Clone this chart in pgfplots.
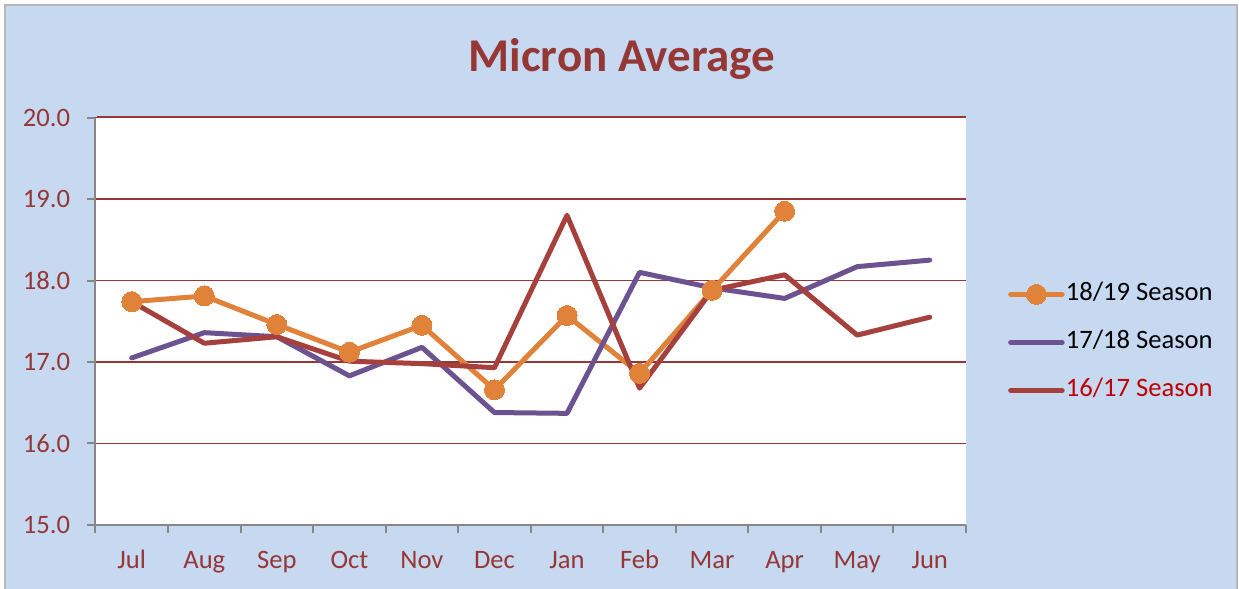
\documentclass[border=0pt]{standalone}
\usepackage{pgfplots}
\pgfplotsset{compat=1.18}
\usepackage{fontspec}
\setmainfont{Carlito}
\definecolor{bgblue}{HTML}{C6D9F1}
\definecolor{gridred}{HTML}{953735}
\definecolor{axgray}{HTML}{878787}
\definecolor{sorange}{HTML}{E0823A}
\definecolor{spurple}{HTML}{6C5290}
\definecolor{sred}{HTML}{A5403D}
\definecolor{legred}{HTML}{C00000}
\begin{document}
\begin{tikzpicture}
\useasboundingbox (-47.75pt,-32pt) rectangle (571.75pt,262.5pt);
\begin{scope}
\clip (-47.75pt,-32pt) rectangle (571.75pt,262.5pt);
\draw[axgray!60, line width=1pt, fill=bgblue] (-45pt,-40pt) rectangle (570.75pt,260pt);
\end{scope}
\node[anchor=base, text=gridred, font=\fontsize{23.5}{28}\selectfont\bfseries] at (263.25pt,226.65pt) {Micron Average};
\begin{axis}[
  at={(0pt,0pt)}, anchor=south west,
  scale only axis, width=435.25pt, height=203.75pt,
  xmin=0.5, xmax=12.5, ymin=15, ymax=20,
  axis background/.style={fill=white},
  axis x line*=bottom, axis y line*=left,
  axis line style={axgray, line width=1pt},
  xtick={0.5,1.5,...,12.5},
  x tick label as interval,
  xticklabels={Jul,Aug,Sep,Oct,Nov,Dec,Jan,Feb,Mar,Apr,May,Jun},
  ytick={15,16,17,18,19,20},
  ymajorgrids, grid style={gridred, line width=0.9pt},
  tick align=outside, major tick length=4pt,
  tick style={axgray, line width=1pt},
  tick label style={text=gridred, font=\fontsize{13.3}{15}\selectfont},
  xticklabel style={anchor=base, yshift=-17.8pt, inner sep=0pt},
  yticklabel style={anchor=east, inner sep=0pt, xshift=-8.5pt},
  /pgf/number format/.cd, fixed, fixed zerofill, precision=1, assume math mode=true,
  /pgfplots/.cd,
  legend cell align=left,
  legend image code/.code={
    \draw[mark repeat=2, mark phase=2, #1] plot coordinates {(1.25pt,0pt) (14.125pt,0pt) (27pt,0pt)};
    \path (0pt,-3pt) (27.6pt,3pt);
  },
  legend style={at={(axis description cs:1.0456,0.448)}, anchor=west, draw=none, fill=none,
    inner sep=0pt, outer sep=0pt, row sep=12pt, column sep=0pt,
    nodes={inner sep=0pt, text height=9pt, text depth=3pt, font=\fontsize{13.3}{15}\selectfont}},
  every axis plot/.append style={line width=2.5pt, line join=round, line cap=round},
]
\addplot[sorange, mark=*, mark size=5pt, mark options={fill=sorange, draw=sorange, line width=0pt}] coordinates {
(1,17.74) (2,17.81) (3,17.46) (4,17.12) (5,17.45) (6,16.66) (7,17.57) (8,16.86) (9,17.88) (10,18.85)};
\addlegendentry{18/19 Season}
\addplot[spurple, mark=none] coordinates {
(1,17.05) (2,17.36) (3,17.31) (4,16.83) (5,17.18) (6,16.38) (7,16.37) (8,18.10) (9,17.91) (10,17.78) (11,18.17) (12,18.25)};
\addlegendentry{17/18 Season}
\addplot[sred, mark=none] coordinates {
(1,17.74) (2,17.23) (3,17.31) (4,17.01) (5,16.98) (6,16.93) (7,18.80) (8,16.68) (9,17.88) (10,18.07) (11,17.33) (12,17.55)};
\addlegendentry{\textcolor{legred}{16/17 Season}}
\end{axis}
\draw[gridred, line width=1pt] (0.5pt,203.75pt) -- (435.25pt,203.75pt);
\end{tikzpicture}
\end{document}
